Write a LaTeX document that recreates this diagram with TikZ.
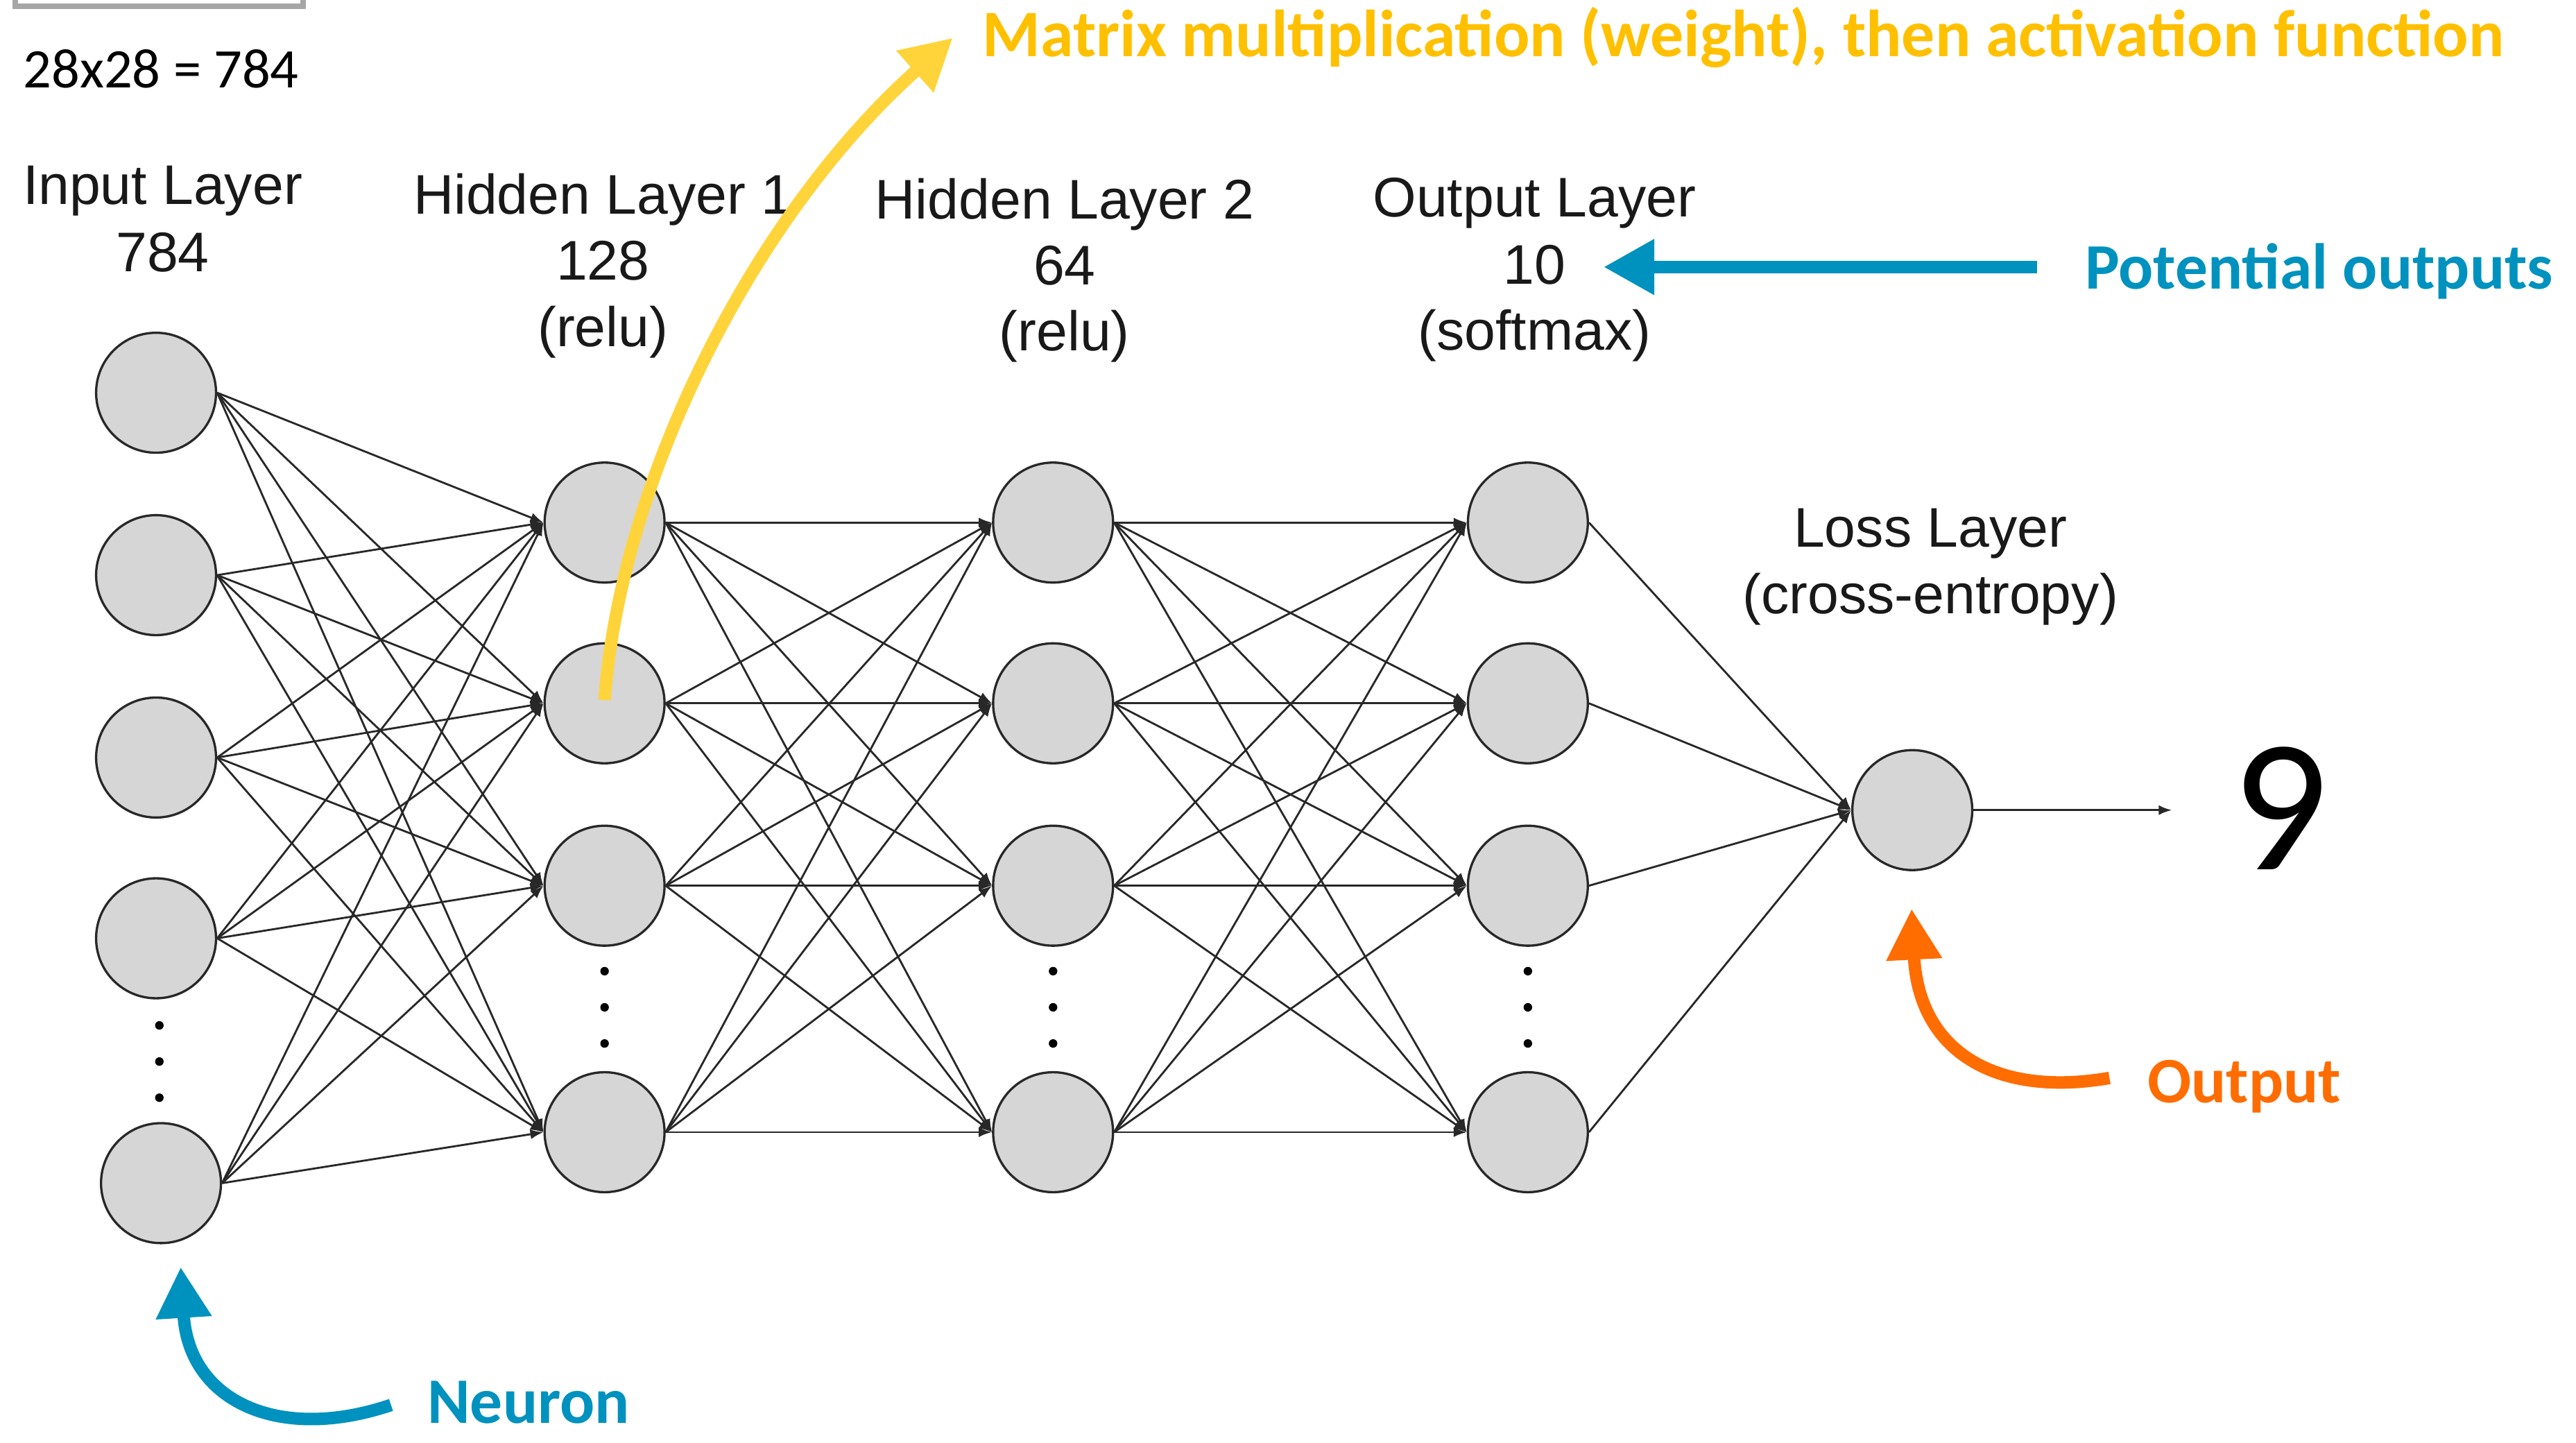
\documentclass[tikz,border=0pt]{standalone}
\usepackage{fontspec}
\setmainfont{Liberation Sans}
\newfontfamily\calib{Carlito}
\usetikzlibrary{arrows.meta}
\definecolor{nfill}{RGB}{214,214,214}
\definecolor{nedge}{RGB}{40,40,40}
\definecolor{ylw}{RGB}{255,212,59}
\definecolor{ylwtxt}{RGB}{255,192,0}
\definecolor{blu}{RGB}{0,146,190}
\definecolor{org}{RGB}{255,108,0}
\definecolor{boxgray}{RGB}{166,166,166}
\begin{document}
\begin{tikzpicture}[x=1pt,y=-1pt,
  neuron/.style={circle, draw=nedge, line width=1.4pt, fill=nfill, minimum size=73pt, inner sep=0pt},
  conn/.style={draw=nedge, line width=1.2pt, -{Latex[length=8pt,width=6pt]}},
  lbl/.style={font=\fontsize{34}{40}\selectfont, text=black!90, inner sep=0pt, anchor=base},
  ann/.style={font=\calib\bfseries\fontsize{39.5}{45}\selectfont, inner sep=0pt, anchor=base west},
  bigarrow/.style={line width=7.6pt, -{Triangle[length=31pt,width=32pt]}}]
\useasboundingbox (0,0) rectangle (1568,878);
\fill[white] (0,0) rectangle (1568,878);

% top-left box fragment
\draw[boxgray, line width=3.4pt, line join=miter] (9.3,-12) -- (9.3,3.9) -- (184.4,3.9) -- (184.4,-12);
\node[font=\calib\fontsize{34}{40}\selectfont, anchor=base west, inner sep=0pt] (dim) at (14,53.3) {28x28 = 784};

% neurons
\node[neuron] (i1) at (95,239) {};
\node[neuron] (i2) at (95,350) {};
\node[neuron] (i3) at (95,461) {};
\node[neuron] (i4) at (95,571) {};
\node[neuron] (i5) at (98,720) {};
\foreach \b/\y in {1/318,2/428,3/539,4/689}{
  \node[neuron] (h\b) at (368,\y) {};
  \node[neuron] (g\b) at (641,\y) {};
  \node[neuron] (o\b) at (930,\y) {};
}
\node[neuron] (loss) at (1164,493) {};

% connections
\foreach \a in {1,...,5}{\foreach \b in {1,...,4}{\draw[conn] (i\a.east) -- (h\b.west);}}
\foreach \a in {1,...,4}{\foreach \b in {1,...,4}{
  \draw[conn] (h\a.east) -- (g\b.west);
  \draw[conn] (g\a.east) -- (o\b.west);}}
\foreach \a in {1,...,4}{\draw[conn] (o\a.east) -- (loss.west);}
\coordinate (outend) at (1322,493);
\draw[conn] (loss.east) -- (outend);

% vertical dots
\foreach \x/\ys in {97/{624,646,668},368/{591,613,635},641/{591,613,635},930/{591,613,635}}{
  \foreach \y in \ys {\fill[black] (\x,\y) circle (2.6pt);}
}

% layer labels
\node[lbl] (li1) at (99,124.5) {Input Layer};
\node[lbl] (li2) at (99,165.3) {784};
\node[lbl] (lh1) at (367,130.3) {Hidden Layer 1};
\node[lbl] (lh2) at (367,170.3) {128};
\node[lbl] (lh3) at (367,210.9) {(relu)};
\node[lbl] (lg1) at (648,133.3) {Hidden Layer 2};
\node[lbl] (lg2) at (648,173.3) {64};
\node[lbl] (lg3) at (648,213.3) {(relu)};
\node[lbl] (lo1) at (934,132) {Output Layer};
\node[lbl] (lo2) at (934,173) {10};
\node[lbl] (lo3) at (934,213) {(softmax)};
\node[lbl] (ll1) at (1175,333) {Loss Layer};
\node[lbl] (ll2) at (1175,373.3) {(cross-entropy)};

% result
\node[font=\calib\fontsize{115}{120}\selectfont, inner sep=0pt] (nine) at (1388,492) {9};

% annotations
\coordinate (ytail) at (368,426);
\coordinate (ytip) at (580,23);
\draw[ylw, bigarrow] (ytail) .. controls (378,290) and (460,130) .. (ytip);
\node[ann, text=ylwtxt, font=\calib\bfseries\fontsize{40.5}{45}\selectfont] (ytext) at (598,34.5) {Matrix multiplication (weight), then activation function};

\coordinate (btail) at (1240,162.5);
\coordinate (btip) at (976,162.5);
\draw[blu, bigarrow] (btail) -- (btip);
\node[ann, text=blu] (btext) at (1269,176) {Potential outputs};

\coordinate (ntail) at (238,855);
\coordinate (ntip) at (110,771);
\draw[blu, bigarrow] (ntail) .. controls (170,878) and (115,853) .. (ntip);
\node[ann, text=blu] (ntext) at (260,866) {Neuron};

\coordinate (otail) at (1284,656);
\coordinate (otip) at (1163.6,553);
\draw[org, bigarrow] (otail) .. controls (1215,668) and (1168,640) .. (otip);
\node[ann, text=org] (otext) at (1307,671) {Output};
\end{tikzpicture}
\end{document}
